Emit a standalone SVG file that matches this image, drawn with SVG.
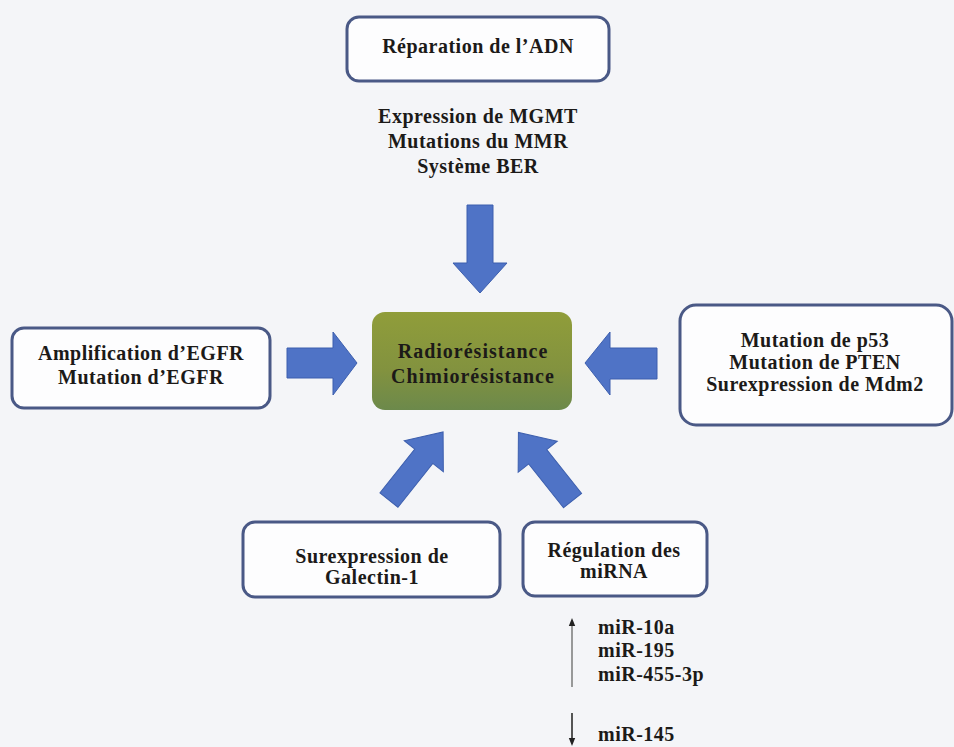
<svg xmlns="http://www.w3.org/2000/svg" width="954" height="747" viewBox="0 0 954 747">
<style>
  .box { fill: #fdfdfe; stroke: #4a5986; stroke-width: 3; }
  .t { font-family: "Liberation Serif", "Times New Roman", serif; font-weight: bold; font-size: 20px; fill: #1c1a18; letter-spacing: 0.5px; }
  .c { text-anchor: middle; }
  .arr { fill: #4f73c6; stroke: #3d5fae; stroke-width: 1; }
</style>
<defs>
  <linearGradient id="g" x1="0" y1="0" x2="0" y2="1">
    <stop offset="0" stop-color="#909d3a"/>
    <stop offset="0.6" stop-color="#82923f"/>
    <stop offset="1" stop-color="#6c894b"/>
  </linearGradient>
  <marker id="ah" viewBox="0 0 10 10" refX="5" refY="5" markerWidth="8" markerHeight="8" orient="auto-start-reverse" markerUnits="userSpaceOnUse">
    <path d="M0,1 L10,5 L0,9 z" fill="#222"/>
  </marker>
</defs>
<rect width="954" height="747" fill="#f4f5f8"/>

<g id="connectors">
  <polygon class="arr" points="467,205 493,205 493,263 507,263 480,293 453,263 467,263"/>
  <polygon class="arr" points="287,348 333,348 333,332 357,363 333,395 333,378 287,378"/>
  <polygon class="arr" points="657,348 610,348 610,332 585,363 610,395 610,379 657,379"/>
  <polygon class="arr" transform="translate(416,466) rotate(38.5)" points="-11.5,43.5 11.5,43.5 11.5,-12.5 25,-12.5 0,-43.5 -25,-12.5 -11.5,-12.5"/>
  <polygon class="arr" transform="translate(545.5,466.5) rotate(-38.5)" points="-11.5,43.5 11.5,43.5 11.5,-12.5 25,-12.5 0,-43.5 -25,-12.5 -11.5,-12.5"/>
  <line x1="572" y1="687" x2="572" y2="622" stroke="#7a7a7a" stroke-width="1.5" marker-end="url(#ah)"/>
  <line x1="572" y1="713" x2="572" y2="742" stroke="#555" stroke-width="2" marker-end="url(#ah)"/>
</g>

<g id="adn">
  <rect class="box" x="347" y="17" width="262" height="64" rx="12"/>
  <text class="t c" x="478" y="53">Réparation de l’ADN</text>
</g>
<g id="adn-list">
  <text class="t c" x="478" y="123">Expression de MGMT</text>
  <text class="t c" x="478" y="148">Mutations du MMR</text>
  <text class="t c" x="478" y="173">Système BER</text>
</g>

<g id="center">
  <rect x="372" y="312" width="200" height="98" rx="13" fill="url(#g)"/>
  <text class="t c" x="473" y="358" style="letter-spacing:1px">Radiorésistance</text>
  <text class="t c" x="473" y="383" style="letter-spacing:1px">Chimiorésistance</text>
</g>

<g id="egfr">
  <rect class="box" x="12" y="328" width="258" height="80" rx="12"/>
  <text class="t c" x="141" y="360">Amplification d’EGFR</text>
  <text class="t c" x="141" y="384">Mutation d’EGFR</text>
</g>

<g id="p53">
  <rect class="box" x="680" y="305" width="272" height="120" rx="16"/>
  <text class="t c" x="815" y="347">Mutation de p53</text>
  <text class="t c" x="815" y="369">Mutation de PTEN</text>
  <text class="t c" x="815" y="391">Surexpression de Mdm2</text>
</g>

<g id="galectin">
  <rect class="box" x="243" y="522" width="257" height="75" rx="12"/>
  <text class="t c" x="372" y="563">Surexpression de</text>
  <text class="t c" x="372" y="584">Galectin-1</text>
</g>

<g id="mirna">
  <rect class="box" x="523" y="522" width="184" height="74" rx="12"/>
  <text class="t c" x="614" y="557">Régulation des</text>
  <text class="t c" x="614" y="578">miRNA</text>
</g>

<g id="mir-list">
  <text class="t" x="598" y="634">miR-10a</text>
  <text class="t" x="598" y="657">miR-195</text>
  <text class="t" x="598" y="681">miR-455-3p</text>
  <text class="t" x="598" y="741">miR-145</text>
</g>
</svg>
